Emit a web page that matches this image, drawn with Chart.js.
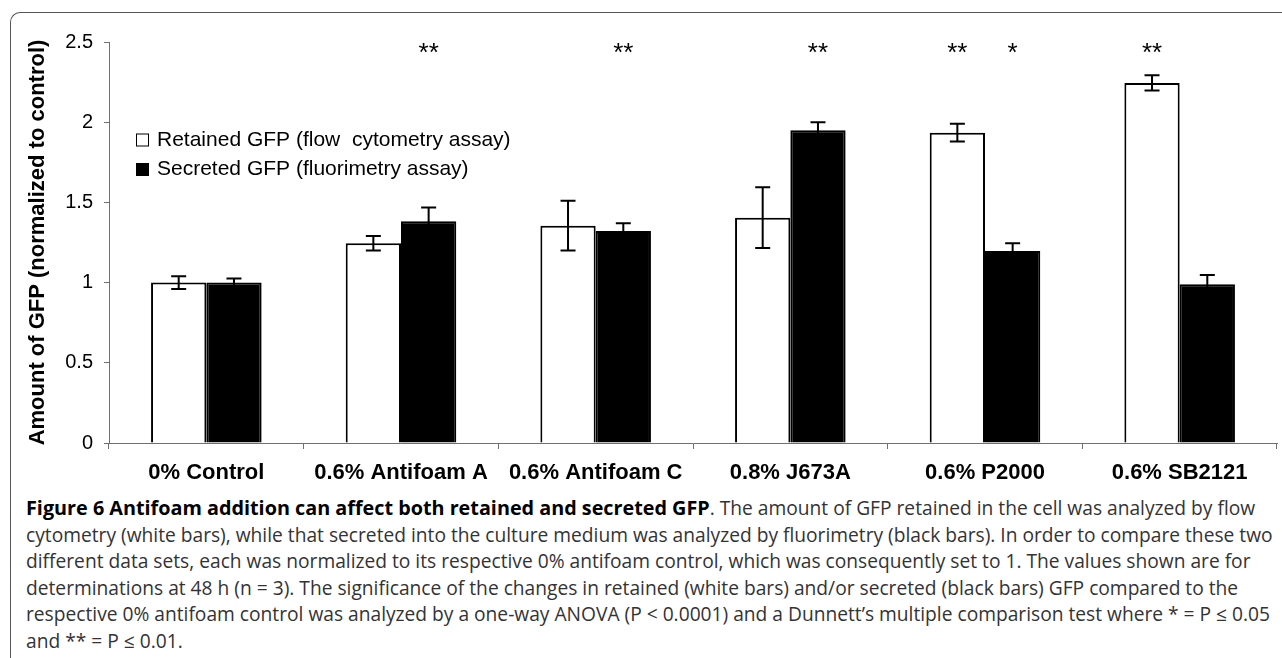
<!DOCTYPE html>
<html>
<head>
<meta charset="utf-8">
<title>Antifoam GFP</title>
<script src="https://cdn.jsdelivr.net/npm/chart.js@4"></script>
<style>
  html, body { margin: 0; padding: 0; background: #fff; }
  body { width: 1282px; height: 658px; position: relative; overflow: hidden; }
  #frame {
    position: absolute; left: 10px; top: 12px; width: 1320px; height: 700px;
    border-left: 1.5px solid #555; border-top: 1.5px solid #555;
    border-top-left-radius: 10px;
  }
  #wrap { position: absolute; left: 0; top: 0; width: 1282px; height: 492px; }
  #caption {
    position: absolute; left: 26px; top: 495px;
    font-family: "Open Sans", sans-serif; font-size: 19.2px; line-height: 26.6px;
    color: #333; white-space: nowrap;
  }
  #caption b { color: #000; font-size: 19.8px; }
</style>
</head>
<body>
<div id="frame"></div>
<div id="wrap"><canvas id="gfpChart" width="1282" height="492"></canvas></div>
<div id="caption">
<b>Figure 6 Antifoam addition can affect both retained and secreted GFP</b>. The amount of GFP retained in the cell was analyzed by flow<br>
cytometry (white bars), while that secreted into the culture medium was analyzed by fluorimetry (black bars). In order to compare these two<br>
different data sets, each was normalized to its respective 0% antifoam control, which was consequently set to 1. The values shown are for<br>
determinations at 48 h (n = 3). The significance of the changes in retained (white bars) and/or secreted (black bars) GFP compared to the<br>
respective 0% antifoam control was analyzed by a one-way ANOVA (P &lt; 0.0001) and a Dunnett’s multiple comparison test where * = P ≤ 0.05<br>
and ** = P ≤ 0.01.
</div>
<script>
// values
const categories = ["0% Control", "0.6% Antifoam A", "0.6% Antifoam C", "0.8% J673A", "0.6% P2000", "0.6% SB2121"];
const retained = [1.0, 1.245, 1.355, 1.405, 1.935, 2.245];
const retainedErr = [0.04, 0.045, 0.155, 0.19, 0.055, 0.048];
const secreted = [1.0, 1.383, 1.322, 1.95, 1.197, 0.99];
const secretedErr = [0.025, 0.085, 0.048, 0.05, 0.048, 0.057];
const retainedSig = ["", "", "", "", "**", "**"];
const secretedSig = ["", "**", "**", "**", "*", ""];
const yMin = 0, yMax = 2.5, yStep = 0.5;

const errors = [retainedErr, secretedErr];
const stars = [retainedSig, secretedSig];
const FONT = "'Liberation Sans', Arial, sans-serif";
const AXIS = "#707070";

Chart.defaults.font.family = FONT;
Chart.defaults.color = "#000";

// error bars with caps
const errorBars = {
    id: "errorBars",
    afterDatasetsDraw(chart) {
        const ctx = chart.ctx;
        const y = chart.scales.y;
        ctx.save();
        ctx.strokeStyle = "#000";
        ctx.lineWidth = 2;
        chart.data.datasets.forEach(function (ds, d) {
            chart.getDatasetMeta(d).data.forEach(function (bar, i) {
                const v = ds.data[i], e = errors[d][i];
                const top = y.getPixelForValue(v + e);
                const bot = y.getPixelForValue(v - e);
                ctx.beginPath();
                ctx.moveTo(bar.x, top); ctx.lineTo(bar.x, bot);
                ctx.moveTo(bar.x - 7.5, top); ctx.lineTo(bar.x + 7.5, top);
                ctx.moveTo(bar.x - 7.5, bot); ctx.lineTo(bar.x + 7.5, bot);
                ctx.stroke();
            });
        });
        ctx.restore();
    }
};

// significance asterisks above the bars
const sigMarks = {
    id: "sigMarks",
    afterDatasetsDraw(chart) {
        const ctx = chart.ctx;
        const base = chart.scales.y.getPixelForValue(yMax) + 19;
        ctx.save();
        ctx.font = "26px " + FONT;
        ctx.fillStyle = "#000";
        ctx.textAlign = "center";
        ctx.textBaseline = "alphabetic";
        chart.data.datasets.forEach(function (ds, d) {
            chart.getDatasetMeta(d).data.forEach(function (bar, i) {
                if (stars[d][i]) ctx.fillText(stars[d][i], bar.x, base);
            });
        });
        ctx.restore();
    }
};

// legend sitting inside the plot, top left
const innerLegend = {
    id: "innerLegend",
    afterDraw(chart) {
        const ctx = chart.ctx;
        const x = chart.chartArea.left + 27;
        let y = chart.chartArea.top + 98;
        ctx.save();
        ctx.font = "21px " + FONT;
        ctx.textBaseline = "middle";
        chart.data.datasets.forEach(function (ds) {
            ctx.fillStyle = ds.backgroundColor;
            ctx.fillRect(x, y - 6.5, 13, 13);
            ctx.strokeStyle = "#000";
            ctx.lineWidth = 1;
            ctx.strokeRect(x + 0.5, y - 6, 12, 12);
            ctx.fillStyle = "#000";
            ctx.fillText(ds.label, x + 21, y);
            y += 29.5;
        });
        ctx.restore();
    }
};

new Chart(document.getElementById("gfpChart"), {
    type: "bar",
    data: {
        labels: categories,
        datasets: [{
            label: "Retained GFP (flow  cytometry assay)",
            data: retained,
            backgroundColor: "#ffffff",
            borderColor: "#000",
            borderWidth: 2,
            categoryPercentage: 0.568,
            barPercentage: 1
        }, {
            label: "Secreted GFP (fluorimetry assay)",
            data: secreted,
            backgroundColor: "#000000",
            borderColor: "#000",
            borderWidth: 2,
            categoryPercentage: 0.568,
            barPercentage: 1
        }]
    },
    options: {
        responsive: false,
        animation: false,
        devicePixelRatio: 1,
        layout: { padding: { left: 0, right: 5, top: 42, bottom: 0 } },
        plugins: {
            legend: { display: false },
            tooltip: { enabled: false }
        },
        scales: {
            x: {
                afterFit: function (scale) { scale.height = 49; },
                grid: { drawOnChartArea: false, offset: true, tickLength: 6, color: AXIS },
                border: { display: true, color: AXIS, width: 1 },
                ticks: { font: { size: 22, weight: "bold" }, padding: 11, color: "#000", maxRotation: 0, autoSkip: false }
            },
            y: {
                min: yMin,
                max: yMax,
                afterFit: function (scale) { scale.width = 109; },
                grid: { drawOnChartArea: false, tickLength: 5, color: AXIS },
                border: { display: true, color: AXIS, width: 1 },
                ticks: {
                    stepSize: yStep, font: { size: 20 }, padding: 11, color: "#000",
                    callback: function (v) { return String(v); }
                },
                title: {
                    display: true,
                    text: "Amount of GFP (normalized to control)",
                    font: { size: 22, weight: "bold" },
                    color: "#000",
                    padding: { top: 25, bottom: 0 }
                }
            }
        }
    },
    plugins: [errorBars, sigMarks, innerLegend]
});
</script>
</body>
</html>
